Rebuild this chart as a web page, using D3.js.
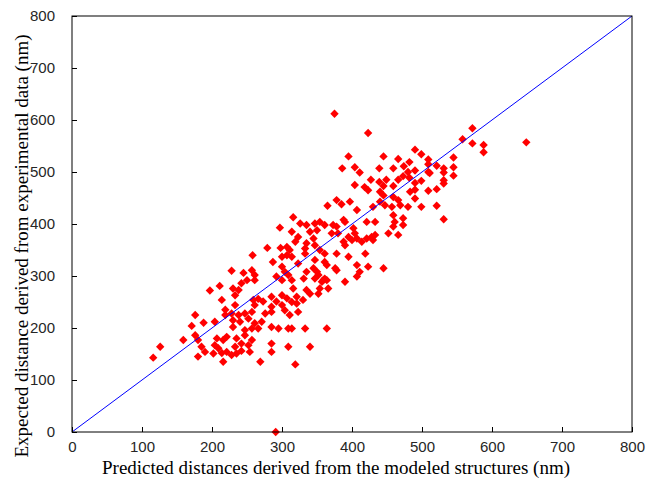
<!DOCTYPE html>
<html>
<head>
<script src="https://d3js.org/d3.v7.min.js"></script>
<style>
  body { margin: 0; background: #fff; }
  .tick text { font-family: "Liberation Sans", Arial, sans-serif; font-size: 15px; fill: #262626; }
</style>
</head>
<body>
<svg width=648 height=496></svg>
<script>
// predicted (x) and expected (y) distances, nm
const predicted = [
  297,279,298,258,300,287,300,228,245,257,261,250,242,261,292,300,211,197,230,238,
  233,214,300,259,266,273,261,285,292,300,285,233,228,219,219,238,247,257,276,285,
  176,204,188,171,230,240,252,261,271,266,230,247,257,295,285,176,180,159,207,216,
  221,235,247,257,185,204,209,233,242,252,285,190,202,214,221,228,235,242,254,126,
  116,216,285,269,180,
  365,385,397,440,430,447,457,469,480,499,407,459,473,461,459,473,316,326,335,347,
  354,361,373,388,390,421,433,314,340,350,371,378,380,402,404,452,466,323,319,345,
  335,347,395,400,407,414,421,428,433,430,388,390,307,311,307,314,333,333,354,361,
  378,419,323,347,361,364,395,335,345,350,352,347,376,378,407,411,423,445,407,304,
  309,314,331,359,357,361,364,390,316,335,354,366,340,352,307,321,314,321,330,323,
  304,311,309,314,333,364,309,340,319,
  375,423,490,499,395,445,466,482,474,386,404,411,439,459,490,480,482,473,466,449,
  427,499,439,445,440,445,404,418,423,459,459,466,490,490,490,483,378,
  572,558,572,588,588,649,545,545,545,509,509,509,511,521,531,531,531,531,509,521,
  521,531,291
];
const expected = [
  393,354,354,340,337,327,318,310,306,311,302,292,286,292,299,292,281,272,276,273,
  263,254,263,254,256,251,244,260,251,244,241,244,228,235,225,225,228,231,228,231,
  225,212,210,204,215,212,218,209,212,199,202,196,199,199,202,186,177,177,180,177,
  183,180,186,177,164,167,161,164,170,167,170,154,151,152,154,148,151,156,154,164,
  143,135,154,135,145,
  435,438,443,443,433,436,433,436,433,433,427,417,411,404,395,398,413,401,398,401,
  404,398,398,408,404,404,404,385,385,388,382,395,382,392,382,382,379,375,366,372,
  363,359,375,369,372,366,372,375,379,369,366,359,356,350,340,337,353,343,350,343,
  343,343,324,331,327,321,337,308,315,308,302,295,315,311,321,308,318,315,299,308,
  302,292,295,292,289,295,292,289,276,273,276,276,266,266,257,260,250,247,254,231,
  234,225,199,199,199,199,164,164,130,
  612,575,543,534,530,530,525,519,511,507,509,499,507,507,503,500,489,492,485,485,
  485,483,481,473,462,455,475,471,465,473,452,446,479,466,449,462,446,
  584,563,555,552,538,557,528,509,493,524,515,500,498,512,507,499,484,478,464,467,
  435,409,0
];
const xTicks = [0, 100, 200, 300, 400, 500, 600, 700, 800];
const yTicks = [0, 100, 200, 300, 400, 500, 600, 700, 800];
const fitLine = [0, 800];

const plotLeft = 72, plotTop = 16, plotRight = 632, plotBottom = 432;
const svg = d3.select("svg");

const x = d3.scaleLinear().domain([0, 800]).range([plotLeft, plotRight]);
const y = d3.scaleLinear().domain([0, 800]).range([plotBottom, plotTop]);

// points
const diamond = "M0,-4.2L4.2,0L0,4.2L-4.2,0Z";
svg.append("g")
  .selectAll("path")
  .data(predicted.map((d, i) => [d, expected[i]]))
  .join("path")
  .attr("d", diamond)
  .attr("transform", d => `translate(${x(d[0])},${y(d[1])})`)
  .attr("fill", "#ff0000");

// y = x line
svg.append("line")
  .attr("x1", x(fitLine[0])).attr("y1", y(fitLine[0]))
  .attr("x2", x(fitLine[1])).attr("y2", y(fitLine[1]))
  .attr("stroke", "#0000ff")
  .attr("stroke-width", 1);

// axes with inward ticks
const xAxis = svg.append("g")
  .attr("transform", `translate(0,${plotBottom})`)
  .call(d3.axisBottom(x).tickValues(xTicks).tickSizeInner(-5).tickSizeOuter(0).tickPadding(9));
const yAxis = svg.append("g")
  .attr("transform", `translate(${plotLeft},0)`)
  .call(d3.axisLeft(y).tickValues(yTicks).tickSizeInner(-5).tickSizeOuter(0).tickPadding(17));
[xAxis, yAxis].forEach(g => {
  g.select(".domain").remove();
  g.selectAll(".tick line").attr("stroke", "#000");
});

// frame
svg.append("rect")
  .attr("x", plotLeft).attr("y", plotTop)
  .attr("width", plotRight - plotLeft).attr("height", plotBottom - plotTop)
  .attr("fill", "none").attr("stroke", "#000").attr("stroke-width", 1);

svg.append("text")
  .attr("x", 336)
  .attr("y", 474)
  .attr("text-anchor", "middle")
  .style("font-family", "'Liberation Serif', 'Times New Roman', serif")
  .style("font-size", "19px")
  .text("Predicted distances derived from the modeled structures (nm)");

svg.append("text")
  .attr("transform", "rotate(-90)")
  .attr("x", -246)
  .attr("y", 28)
  .attr("text-anchor", "middle")
  .style("font-family", "'Liberation Serif', 'Times New Roman', serif")
  .style("font-size", "19px")
  .text("Expected distance derived from experimental data (nm)");
</script>
</body>
</html>
